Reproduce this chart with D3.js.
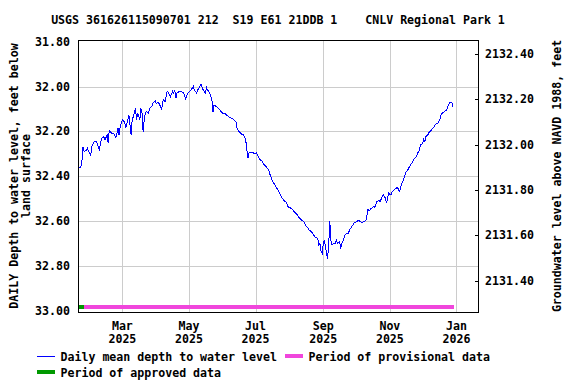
<!DOCTYPE html>
<html>
<head>
<meta charset="utf-8">
<script src="https://cdn.jsdelivr.net/npm/d3@7"></script>
<style>
body { margin: 0; background: #fff; }
text { font-family: "DejaVu Sans Mono", monospace; font-weight: bold; font-size: 11.6px; fill: #000; }
</style>
</head>
<body>
<svg id="chart" width="576" height="384"></svg>
<script>
// ---- data ----
const title = "USGS 361626115090701 212  S19 E61 21DDB 1    CNLV Regional Park 1";
const leftTitle = ["DAILY Depth to water level, feet below", "land surface"];
const rightTitle = "Groundwater level above NAVD 1988, feet";
const dates = [
"01-20","01-22","01-23","01-24","01-25","01-27","01-28","01-29","01-31","02-01","02-03","02-05","02-06","02-07","02-08","02-09","02-10","02-12","02-13","02-15","02-16","02-17","02-19","02-21","02-23","02-24","02-25","02-26","02-27",
"03-01","03-03","03-04","03-06","03-07","03-09","03-10","03-12","03-13","03-14","03-15","03-17","03-18","03-19","03-20","03-21","03-22","03-23","03-25","03-26","03-28","03-29","03-31",
"04-01","04-03","04-05","04-06","04-07","04-08","04-09","04-11","04-12","04-14","04-16","04-17","04-18","04-19","04-20","04-22","04-24","04-26","04-28","04-30",
"05-01","05-03","05-05","05-06","05-08","05-09","05-11","05-12","05-14","05-16","05-17","05-18","05-20","05-21","05-22","05-23","05-24","05-26","05-28","05-30",
"06-01","06-03","06-05","06-08","06-10","06-13","06-14","06-16","06-18","06-20","06-22","06-23","06-24","06-25","06-28","06-30",
"07-02","07-03","07-05","07-07","07-08","07-11","07-13","07-14","07-16","07-18","07-20","07-22","07-24","07-25","07-27","07-29","07-31",
"08-02","08-04","08-06","08-08","08-10","08-12","08-14","08-16","08-18","08-19","08-21","08-23","08-25","08-27","08-28","08-29","08-30","08-31",
"09-01","09-02","09-04","09-05","09-06","09-07","09-08","09-09","09-10","09-12","09-13","09-14","09-16","09-17","09-18","09-20","09-21","09-22","09-24","09-25","09-26","09-28","09-29",
"10-01","10-03","10-04","10-06","10-08","10-10","10-11","10-12","10-13","10-15","10-17","10-18","10-20","10-22","10-23","10-25","10-26","10-28","10-29","10-30","10-31",
"11-02","11-03","11-05","11-06","11-08","11-10","11-11","11-12","11-14","11-15","11-16","11-17","11-19","11-21","11-23","11-25","11-26","11-28","11-29",
"12-01","12-02","12-03","12-04","12-06","12-07","12-09","12-11","12-13","12-15","12-17","12-18","12-19","12-21","12-23","12-24","12-25","12-26","12-28","12-29"
];
const depths = [
32.360,32.359,32.328,32.268,32.290,32.283,32.276,32.286,32.305,32.268,32.246,32.243,32.253,32.270,32.282,32.253,32.231,32.224,32.238,32.216,32.253,32.194,32.208,32.208,32.226,32.208,32.186,32.216,32.179,
32.149,32.157,32.186,32.149,32.127,32.216,32.149,32.119,32.097,32.149,32.119,32.149,32.097,32.119,32.201,32.149,32.119,32.112,32.119,32.097,32.089,32.074,32.063,
32.074,32.071,32.089,32.104,32.067,32.059,32.070,32.022,32.025,32.045,32.022,32.029,32.019,32.052,32.029,32.022,32.022,32.029,32.055,32.029,
32.025,32.015,32.000,32.015,32.029,32.015,32.000,31.989,32.015,32.029,32.004,32.015,32.029,32.045,32.059,32.112,32.082,32.089,32.097,32.109,
32.119,32.119,32.130,32.139,32.142,32.157,32.186,32.201,32.212,32.216,32.238,32.283,32.320,32.295,32.292,32.299,
32.296,32.307,32.326,32.332,32.344,32.359,32.371,32.389,32.416,32.433,32.451,32.464,32.486,32.494,32.508,32.516,32.538,
32.541,32.550,32.561,32.571,32.586,32.595,32.601,32.620,32.631,32.640,32.646,32.661,32.673,32.677,32.708,32.700,32.735,32.745,
32.700,32.686,32.745,32.768,32.700,32.600,32.686,32.708,32.700,32.699,32.686,32.700,32.693,32.723,32.700,32.677,32.662,32.655,32.655,32.640,32.633,32.618,32.610,
32.603,32.598,32.598,32.607,32.603,32.598,32.573,32.548,32.554,32.543,32.536,32.540,32.514,32.506,32.514,32.491,32.484,32.498,32.521,32.491,32.476,
32.484,32.469,32.461,32.454,32.451,32.469,32.447,32.432,32.409,32.394,32.379,32.376,32.357,32.342,32.323,32.313,32.302,32.283,32.261,
32.253,32.234,32.246,32.224,32.213,32.204,32.194,32.183,32.168,32.164,32.144,32.126,32.119,32.112,32.104,32.089,32.078,32.070,32.074,32.093
];
const leftTicks = [31.8, 32.0, 32.2, 32.4, 32.6, 32.8, 33.0];
const rightTicks = [2131.4, 2131.6, 2131.8, 2132.0, 2132.2, 2132.4];
const monthTicks = ["2025-03-01","2025-05-01","2025-07-01","2025-09-01","2025-11-01","2026-01-01"];
const approvedPeriod = ["2025-01-19", "2025-01-25"];
const provisionalPeriod = ["2025-01-25", "2025-12-30"];
const legendItems = [
  {label: "Daily mean depth to water level", color: "#0000ff", width: 1},
  {label: "Period of provisional data", color: "#f046dc", width: 4},
  {label: "Period of approved data", color: "#009900", width: 4}
];

// ---- chart ----
const parse = d3.timeParse("%Y-%m-%d");
const data = dates.map((d, i) => ({date: parse("2025-" + d), depth: depths[i]}));

const svg = d3.select("#chart");
const frame = {left: 78.5, right: 478.5, top: 40, bottom: 312};

const x = d3.scaleTime()
  .domain([parse("2025-01-20"), parse("2026-01-21")])
  .range([78.7, 478.3]);
const y = d3.scaleLinear().domain([31.8, 33.0]).range([41.7, 310.8]);
const yR = d3.scaleLinear().domain([2132.453, 2131.269]).range([42, 310.5]);

// gridlines
const grid = svg.append("g").attr("stroke", "#cccccc").attr("stroke-width", 1).attr("shape-rendering", "crispEdges");
grid.selectAll("line.h").data(leftTicks.slice(1, -1)).join("line")
  .attr("x1", frame.left).attr("x2", frame.right)
  .attr("y1", d => Math.round(y(d)) + 0.5).attr("y2", d => Math.round(y(d)) + 0.5);
grid.selectAll("line.v").data(monthTicks).join("line")
  .attr("x1", d => Math.round(x(parse(d))) + 0.5).attr("x2", d => Math.round(x(parse(d))) + 0.5)
  .attr("y1", frame.top).attr("y2", frame.bottom);

// period bars
const barY = y(33.0) - 4;
svg.append("line").attr("x1", x(parse(provisionalPeriod[0]))).attr("x2", x(parse(provisionalPeriod[1])))
  .attr("y1", barY).attr("y2", barY).attr("stroke", legendItems[1].color).attr("stroke-width", 4).attr("shape-rendering", "crispEdges");
svg.append("line").attr("x1", x(parse(approvedPeriod[0]))).attr("x2", x(parse(approvedPeriod[1])))
  .attr("y1", barY).attr("y2", barY).attr("stroke", legendItems[2].color).attr("stroke-width", 4).attr("shape-rendering", "crispEdges");

// data line
svg.append("path").datum(data)
  .attr("fill", "none").attr("stroke", "#0000ff").attr("stroke-width", 1)
  .attr("shape-rendering", "crispEdges")
  .attr("d", d3.line().x(d => x(d.date)).y(d => y(d.depth)));

// frame
svg.append("rect").attr("x", frame.left).attr("y", frame.top + 0.5)
  .attr("width", frame.right - frame.left).attr("height", frame.bottom - frame.top)
  .attr("fill", "none").attr("stroke", "#000").attr("stroke-width", 1).attr("shape-rendering", "crispEdges");

// left axis labels
const fmt = d3.format(".2f");
svg.append("g").selectAll("text").data(leftTicks).join("text")
  .attr("x", 70).attr("y", d => y(d)).attr("dy", "0.35em").attr("text-anchor", "end")
  .text(d => fmt(d));

// right axis
const rAxis = svg.append("g");
rAxis.selectAll("line").data(rightTicks).join("line")
  .attr("x1", frame.right - 4).attr("x2", frame.right)
  .attr("y1", d => Math.round(yR(d)) + 0.5).attr("y2", d => Math.round(yR(d)) + 0.5)
  .attr("stroke", "#000").attr("shape-rendering", "crispEdges");
rAxis.selectAll("text").data(rightTicks).join("text")
  .attr("x", 485).attr("y", d => yR(d)).attr("dy", "0.35em")
  .text(d => fmt(d));

// x axis labels
const xl = svg.append("g").selectAll("g").data(monthTicks).join("g")
  .attr("transform", d => `translate(${x(parse(d))},0)`);
xl.append("text").attr("y", 326).attr("dy", "0.35em").attr("text-anchor", "middle")
  .text(d => d3.timeFormat("%b")(parse(d)));
xl.append("text").attr("y", 339).attr("dy", "0.35em").attr("text-anchor", "middle")
  .text(d => d3.timeFormat("%Y")(parse(d)));

// titles
svg.append("text").attr("x", 278).attr("y", 19.5).attr("dy", "0.35em").attr("text-anchor", "middle")
  .attr("xml:space", "preserve").style("white-space", "pre").text(title);
const ly = (frame.top + frame.bottom) / 2;
leftTitle.forEach((t, i) => {
  svg.append("text").attr("transform", `translate(${14 + i * 12},${ly}) rotate(-90)`)
    .attr("dy", "0.35em").attr("text-anchor", "middle").text(t);
});
svg.append("text").attr("transform", `translate(557,${ly}) rotate(-90)`)
  .attr("dy", "0.35em").attr("text-anchor", "middle").text(rightTitle);

// legend
const legPos = [[37, 356], [285, 356], [37, 372]];
legendItems.forEach((item, i) => {
  const [lx, lyy] = legPos[i];
  svg.append("line").attr("x1", lx).attr("x2", lx + 18).attr("y1", lyy).attr("y2", lyy)
    .attr("stroke", item.color).attr("stroke-width", item.width).attr("shape-rendering", "crispEdges");
  svg.append("text").attr("x", lx + 23.5).attr("y", lyy + 0.5).attr("dy", "0.35em").text(item.label);
});
</script>
</body>
</html>
